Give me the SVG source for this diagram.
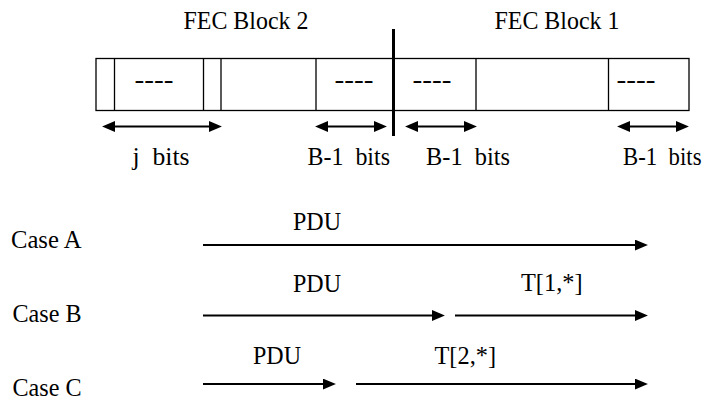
<svg xmlns="http://www.w3.org/2000/svg" width="708" height="401" viewBox="0 0 708 401" font-family="'Liberation Serif', 'Times New Roman', Times, serif" font-size="25">
<style>
text{fill:#000}
.box{fill:#fff;stroke:#000;stroke-width:1.3}
.div{stroke:#000;stroke-width:1.3}
.thick{stroke:#000;stroke-width:3}
.arr{stroke:#000;stroke-width:2;fill:none;marker-end:url(#ah)}
.dbl{stroke:#000;stroke-width:2;fill:none;marker-end:url(#ah);marker-start:url(#ah)}
</style>
<defs>
<marker id="ah" markerUnits="userSpaceOnUse" markerWidth="13" markerHeight="11" viewBox="0 0 12 10" refX="1" refY="5" orient="auto-start-reverse">
<path d="M0,0 L12,5 L0,10 z" fill="#000"/>
</marker>
</defs>

<g id="frame">
<rect class="box" x="96" y="58.5" width="593" height="52"/>
<line class="div" x1="114.5" y1="58.5" x2="114.5" y2="110.5"/>
<line class="div" x1="203.5" y1="58.5" x2="203.5" y2="110.5"/>
<line class="div" x1="221" y1="58.5" x2="221" y2="110.5"/>
<line class="div" x1="316" y1="58.5" x2="316" y2="110.5"/>
<line class="div" x1="476" y1="58.5" x2="476" y2="110.5"/>
<line class="div" x1="608.5" y1="58.5" x2="608.5" y2="110.5"/>
<text x="134.5" y="88" textLength="39" lengthAdjust="spacingAndGlyphs">----</text>
<text x="334.5" y="88" textLength="39" lengthAdjust="spacingAndGlyphs">----</text>
<text x="412.5" y="88" textLength="39" lengthAdjust="spacingAndGlyphs">----</text>
<text x="616.5" y="88" textLength="39" lengthAdjust="spacingAndGlyphs">----</text>
<line class="thick" x1="393.5" y1="29" x2="393.5" y2="136"/>
</g>

<g id="fec2"><text x="183.5" y="29" textLength="125" lengthAdjust="spacingAndGlyphs">FEC Block 2</text></g>
<g id="fec1"><text x="494.5" y="29" textLength="125" lengthAdjust="spacingAndGlyphs">FEC Block 1</text></g>

<g id="labels">
<text x="132.5" y="165" xml:space="preserve" textLength="57" lengthAdjust="spacingAndGlyphs">j  bits</text>
<text x="307.5" y="165" xml:space="preserve" textLength="82.5" lengthAdjust="spacingAndGlyphs">B-1  bits</text>
<text x="426" y="165" xml:space="preserve" textLength="84" lengthAdjust="spacingAndGlyphs">B-1  bits</text>
<text x="623" y="165" xml:space="preserve" textLength="78.5" lengthAdjust="spacingAndGlyphs">B-1  bits</text>
</g>

<g id="caseA"><text x="11" y="248" textLength="70.5" lengthAdjust="spacingAndGlyphs">Case A</text><text x="293" y="230" textLength="48" lengthAdjust="spacingAndGlyphs">PDU</text></g>
<g id="caseB"><text x="12.5" y="321.5" textLength="69" lengthAdjust="spacingAndGlyphs">Case B</text><text x="293" y="291.5" textLength="48" lengthAdjust="spacingAndGlyphs">PDU</text><text x="521" y="290.5" textLength="61.5" lengthAdjust="spacingAndGlyphs">T[1,*]</text></g>
<g id="caseC"><text x="12.5" y="395.5" textLength="69" lengthAdjust="spacingAndGlyphs">Case C</text><text x="253" y="364" textLength="48" lengthAdjust="spacingAndGlyphs">PDU</text><text x="434.5" y="363.5" textLength="61.5" lengthAdjust="spacingAndGlyphs">T[2,*]</text></g>

<g id="connectors">
<line class="dbl" x1="114" y1="126.5" x2="210" y2="126.5"/>
<line class="dbl" x1="327" y1="126.5" x2="375" y2="126.5"/>
<line class="dbl" x1="417" y1="126.5" x2="465" y2="126.5"/>
<line class="dbl" x1="629" y1="126.5" x2="677" y2="126.5"/>
<line class="arr" x1="203" y1="245" x2="636" y2="245"/>
<line class="arr" x1="203" y1="315.5" x2="433" y2="315.5"/>
<line class="arr" x1="455" y1="315.5" x2="636" y2="315.5"/>
<line class="arr" x1="203" y1="384" x2="324" y2="384"/>
<line class="arr" x1="356" y1="384" x2="636" y2="384"/>
</g>
</svg>
